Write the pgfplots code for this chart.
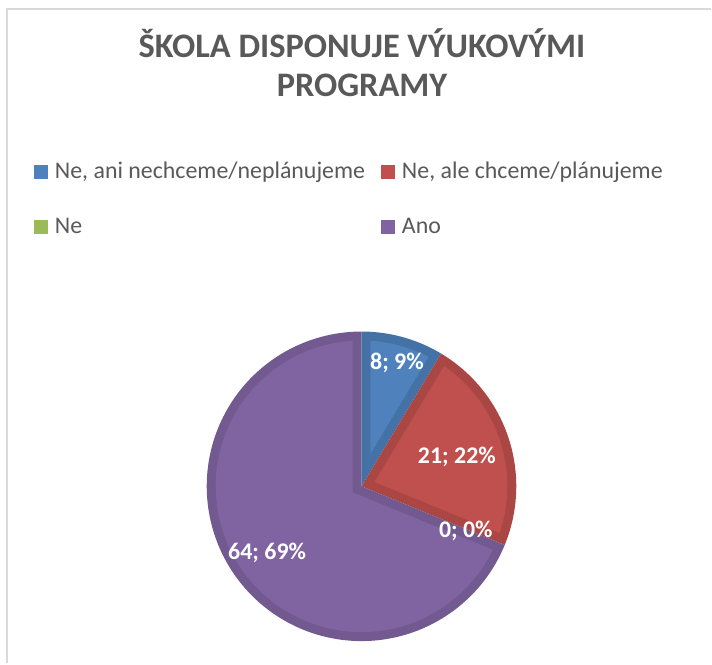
\documentclass[border=0pt]{standalone}
\usepackage{pgfplots}
\pgfplotsset{compat=1.18}
\usepackage{pgfplotstable}
\usepackage{fontspec}
\setmainfont{Carlito}

\definecolor{cblue}{RGB}{79,129,189}
\definecolor{cblueb}{RGB}{68,113,166}
\definecolor{cred}{RGB}{192,80,77}
\definecolor{credb}{RGB}{170,70,68}
\definecolor{cgreen}{RGB}{155,187,89}
\definecolor{cpurple}{RGB}{128,100,162}
\definecolor{cpurpleb}{RGB}{114,89,144}
\definecolor{tgray}{RGB}{89,89,89}
\definecolor{fgray}{RGB}{217,217,217}

\pgfplotstableread{
label value
A 8
B 21
C 0
D 64
}\piedata

\pgfplotstablegetelem{0}{value}\of\piedata \let\vA\pgfplotsretval
\pgfplotstablegetelem{1}{value}\of\piedata \let\vB\pgfplotsretval
\pgfplotstablegetelem{2}{value}\of\piedata \let\vC\pgfplotsretval
\pgfplotstablegetelem{3}{value}\of\piedata \let\vD\pgfplotsretval

\pgfmathsetmacro\vT{\vA+\vB+\vC+\vD}
% boundaries, counter-clockwise degrees, starting at 12 o'clock going clockwise
\pgfmathsetmacro\bZ{90}
\pgfmathsetmacro\bA{90-(\vA/\vT)*360}
\pgfmathsetmacro\bB{90-((\vA+\vB)/\vT)*360}
\pgfmathsetmacro\bC{90-((\vA+\vB+\vC)/\vT)*360}
\pgfmathsetmacro\bD{90-((\vA+\vB+\vC+\vD)/\vT)*360}

\def\cx{362}
\def\cy{177}
\def\R{155}
\def\bw{9}
\pgfmathsetmacro\Ri{\R-\bw}
\pgfmathsetmacro\dl{asin(\bw/\Ri)}
% inner apex offsets
\pgfmathsetmacro\mA{(\bA+\bZ)/2}\pgfmathsetmacro\dA{\bw/sin((\bZ-\bA)/2)}
\pgfmathsetmacro\mB{(\bB+\bA)/2}\pgfmathsetmacro\dB{\bw/sin((\bA-\bB)/2)}
\pgfmathsetmacro\mD{(\bD+\bC)/2}\pgfmathsetmacro\dD{\bw/sin((\bC-\bD)/2)}
\pgfmathsetmacro\pAx{\cx+\dA*cos(\mA)}\pgfmathsetmacro\pAy{\cy+\dA*sin(\mA)}
\pgfmathsetmacro\pBx{\cx+\dB*cos(\mB)}\pgfmathsetmacro\pBy{\cy+\dB*sin(\mB)}
\pgfmathsetmacro\pDx{\cx+\dD*cos(\mD)}\pgfmathsetmacro\pDy{\cy+\dD*sin(\mD)}
\pgfmathsetmacro\sAi{\bA+\dl}\pgfmathsetmacro\eAi{\bZ-\dl}
\pgfmathsetmacro\sBi{\bB+\dl}\pgfmathsetmacro\eBi{\bA-\dl}
\pgfmathsetmacro\sDi{\bD+\dl}\pgfmathsetmacro\eDi{\bC-\dl}

\newcommand\titlefont{\fontsize{34.4bp}{40bp}\selectfont\bfseries}
\newcommand\legfont{\fontsize{23.9bp}{28bp}\selectfont}
\newcommand\labfont{\fontsize{23.9bp}{28bp}\selectfont\bfseries}

\begin{document}
\begin{tikzpicture}
\begin{axis}[
  x=1bp, y=1bp,
  xmin=0, xmax=712, ymin=0, ymax=664,
  hide axis, clip=false,
  legend image code/.code={\fill[#1] (0bp,0bp) rectangle (14bp,14bp);},
  legend style={
    at={(axis cs:34,503)}, anchor=north west,
    draw=none, fill=none, inner sep=0pt, outer sep=0pt,
    font=\legfont, text=tgray,
    legend columns=2, row sep=32bp,
    /tikz/every odd column/.append style={column sep=7bp},
    /tikz/every even column/.append style={column sep=16bp},
    nodes={inner sep=0pt, outer sep=0pt, text height=18bp, text depth=5bp, anchor=base west},
  },
  legend cell align=left,
]
\path (axis cs:0,0) rectangle (axis cs:712,664);
\draw[fgray, line width=2bp] (axis cs:7,0) -- (axis cs:7,655) -- (axis cs:712,655);

% blue slice
\addplot[fill=cblueb, draw=none, domain=\bA:\bZ, samples=40, forget plot]
  ({\cx+\R*cos(x)},{\cy+\R*sin(x)}) -- (axis cs:\cx,\cy) -- cycle;
\addplot[fill=cblue, draw=none, domain=\sAi:\eAi, samples=40]
  ({\cx+\Ri*cos(x)},{\cy+\Ri*sin(x)}) -- (axis cs:\pAx,\pAy) -- cycle;
\addlegendentry{Ne, ani nechceme/neplánujeme}
% red slice
\addplot[fill=credb, draw=none, domain=\bB:\bA, samples=60, forget plot]
  ({\cx+\R*cos(x)},{\cy+\R*sin(x)}) -- (axis cs:\cx,\cy) -- cycle;
\addplot[fill=cred, draw=none, domain=\sBi:\eBi, samples=60]
  ({\cx+\Ri*cos(x)},{\cy+\Ri*sin(x)}) -- (axis cs:\pBx,\pBy) -- cycle;
\addlegendentry{Ne, ale chceme/plánujeme}
% green slice (zero)
\addlegendimage{fill=cgreen, draw=none}
\addlegendentry{Ne}
% purple slice
\addplot[fill=cpurpleb, draw=none, domain=\bD:\bC, samples=150, forget plot]
  ({\cx+\R*cos(x)},{\cy+\R*sin(x)}) -- (axis cs:\cx,\cy) -- cycle;
\addplot[fill=cpurple, draw=none, domain=\sDi:\eDi, samples=150]
  ({\cx+\Ri*cos(x)},{\cy+\Ri*sin(x)}) -- (axis cs:\pDx,\pDy) -- cycle;
\addlegendentry{Ano}

% title
\node[font=\titlefont, text=tgray, anchor=base] at (axis cs:362.5,606) {ŠKOLA DISPONUJE VÝUKOVÝMI};
\node[font=\titlefont, text=tgray, anchor=base] at (axis cs:362.5,567) {PROGRAMY};

% data labels
\node[font=\labfont, text=white, anchor=base] at (axis cs:397.5,294) {8; 9\%};
\node[font=\labfont, text=white, anchor=base] at (axis cs:457.5,200) {21; 22\%};
\node[font=\labfont, text=white, anchor=base] at (axis cs:466.5,126) {0; 0\%};
\node[font=\labfont, text=white, anchor=base] at (axis cs:267.5,104) {64; 69\%};
\end{axis}
\end{tikzpicture}
\end{document}
